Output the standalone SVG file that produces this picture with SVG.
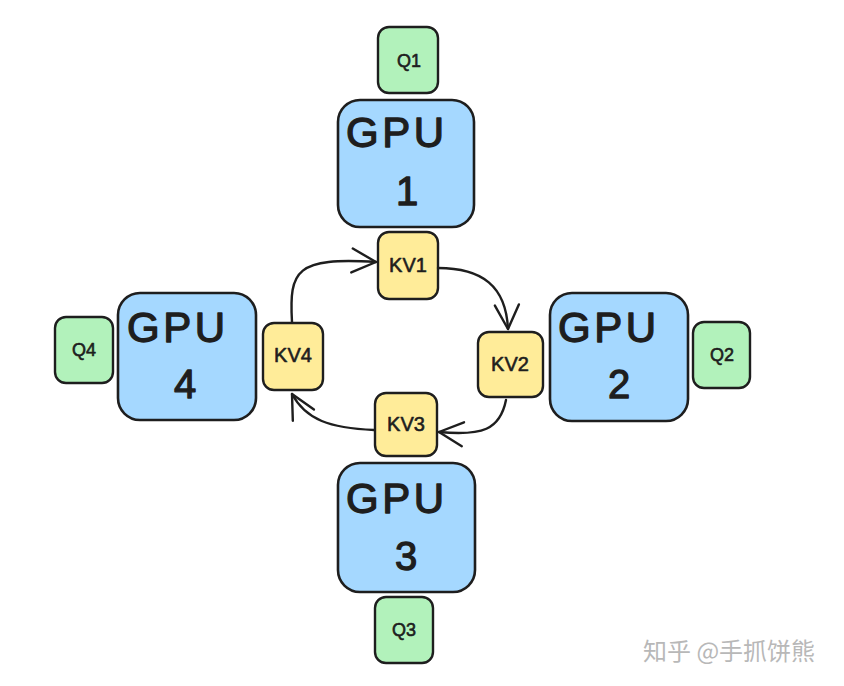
<svg xmlns="http://www.w3.org/2000/svg" width="844" height="686" viewBox="0 0 844 686">
<style>
.gpu{fill:#a5d8ff;stroke:#1e1e1e;stroke-width:2.6}
.q{fill:#b2f2bb;stroke:#1e1e1e;stroke-width:2.4}
.kv{fill:#ffec99;stroke:#1e1e1e;stroke-width:2.4}
.t{font-family:"Liberation Sans",Arial,sans-serif;fill:#1e1e1e;text-anchor:middle;stroke:#1e1e1e;stroke-linejoin:round}
.big{font-size:42px;stroke-width:1.3}
.num{font-size:40px;stroke-width:1.3}
.small{font-size:18px;stroke-width:0.6}
.kvt{font-size:20px;stroke-width:0.6}
.conn{fill:none;stroke:#1e1e1e;stroke-width:2.4;stroke-linecap:round}
.wm{font-family:"Noto Sans CJK SC","Liberation Sans",sans-serif;font-size:24px;fill:#b8b8b8}
</style>
<defs>
<marker id="arr" markerUnits="userSpaceOnUse" markerWidth="34" markerHeight="34" viewBox="0 0 34 34" refX="28" refY="17" orient="auto">
<path d="M4 5 L28 17 L4 29" fill="none" stroke="#1e1e1e" stroke-width="2.4" stroke-linecap="round" stroke-linejoin="round"/>
</marker>
</defs>
<rect width="844" height="686" fill="#ffffff"/>

<g id="gpu1"><rect class="gpu" x="338" y="100" width="136" height="127" rx="22"/><text class="t big" x="395" y="147" textLength="98">GPU</text><text class="t num" x="407" y="205">1</text></g>
<g id="gpu2"><rect class="gpu" x="550" y="293" width="138" height="128" rx="22"/><text class="t big" x="607" y="342" textLength="98">GPU</text><text class="t num" x="619" y="398">2</text></g>
<g id="gpu3"><rect class="gpu" x="338" y="463" width="137" height="129" rx="22"/><text class="t big" x="395" y="513" textLength="98">GPU</text><text class="t num" x="406" y="570">3</text></g>
<g id="gpu4"><rect class="gpu" x="118" y="293" width="138" height="127" rx="22"/><text class="t big" x="176" y="342" textLength="98">GPU</text><text class="t num" x="185" y="398">4</text></g>

<g id="q1"><rect class="q" x="378" y="27" width="60" height="66" rx="11"/><text class="t small" x="409" y="67">Q1</text></g>
<g id="q2"><rect class="q" x="693" y="322" width="57" height="66" rx="11"/><text class="t small" x="722" y="361">Q2</text></g>
<g id="q3"><rect class="q" x="375" y="597" width="58" height="66" rx="11"/><text class="t small" x="404" y="636">Q3</text></g>
<g id="q4"><rect class="q" x="55" y="317" width="58" height="66" rx="11"/><text class="t small" x="84" y="356">Q4</text></g>

<g id="kv1"><rect class="kv" x="378" y="232" width="60" height="67" rx="11"/><text class="t kvt" x="408" y="272">KV1</text></g>
<g id="kv2"><rect class="kv" x="478" y="332" width="65" height="65" rx="11"/><text class="t kvt" x="510" y="371">KV2</text></g>
<g id="kv3"><rect class="kv" x="375" y="393" width="62" height="63" rx="11"/><text class="t kvt" x="406" y="431">KV3</text></g>
<g id="kv4"><rect class="kv" x="263" y="323" width="60" height="67" rx="11"/><text class="t kvt" x="293" y="362">KV4</text></g>

<g id="connectors">
<path class="conn" d="M292 322 C289 270 296 257 376 262" marker-end="url(#arr)"/>
<path class="conn" d="M438 268 C482 268 506 286 508 329" marker-end="url(#arr)"/>
<path class="conn" d="M506 400 C500 430 482 436 439 432" marker-end="url(#arr)"/>
<path class="conn" d="M374 430 C330 428 306 420 292 394" marker-end="url(#arr)"/>
</g>

<text class="wm" x="643" y="660">知乎 @手抓饼熊</text>
</svg>
